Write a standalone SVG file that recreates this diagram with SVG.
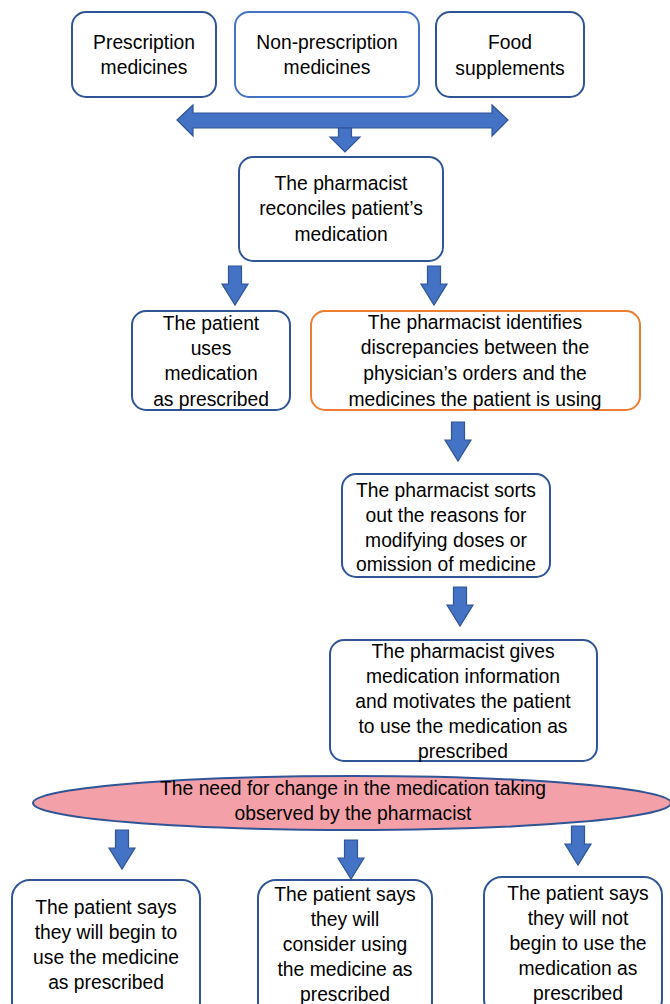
<svg xmlns="http://www.w3.org/2000/svg" xmlns:xlink="http://www.w3.org/1999/xlink" width="670" height="1004" viewBox="0 0 670 1004">
<style>
.box{fill:#fff;stroke:#2F5597;stroke-width:2}
.box2{fill:#fff;stroke:#4472C4;stroke-width:2}
.obox{fill:#fff;stroke:#ED7D31;stroke-width:2}
.arr{fill:#4472C4;stroke:#2F5597;stroke-width:1.2}
text{font-family:"Liberation Sans",Arial,sans-serif;font-size:19.3px;fill:#000;text-anchor:middle}
</style>
<defs>
<path id="down" class="arr" d="M-6.5,0 H6.5 V18 H13 L0,39 L-13,18 H-6.5 Z"/>
</defs>
<rect width="670" height="1004" fill="#fff"/>
<g id="connectors">
<path class="arr" d="M177,120 L193,105 V113 H492 V105 L508,120 L492,136 V128 H193 V136 Z"/>
<path class="arr" d="M338.5,128 H351.5 V137 H360 L345,152 L330,137 H338.5 Z"/>
<use xlink:href="#down" x="235" y="266"/>
<use xlink:href="#down" x="434" y="266"/>
<use xlink:href="#down" x="458" y="422"/>
<use xlink:href="#down" x="460" y="587"/>
<use xlink:href="#down" x="122" y="830"/>
<use xlink:href="#down" x="351" y="840"/>
<use xlink:href="#down" x="578" y="826"/>
</g>
<g id="n1"><rect class="box" x="72" y="12" width="144" height="85" rx="14"/><text x="144" y="49">Prescription</text><text x="144" y="74">medicines</text></g>
<g id="n2"><rect class="box2" x="235" y="12" width="184" height="85" rx="14"/><text x="327" y="49">Non-prescription</text><text x="327" y="74">medicines</text></g>
<g id="n3"><rect class="box" x="436" y="12" width="148" height="85" rx="14"/><text x="510" y="49">Food</text><text x="510" y="75">supplements</text></g>
<g id="n4"><rect class="box" x="239" y="157" width="204" height="104" rx="14"/><text x="341" y="190">The pharmacist</text><text x="341" y="215">reconciles patient’s</text><text x="341" y="241">medication</text></g>
<g id="n5"><rect class="box" x="132" y="311" width="158" height="99" rx="14"/><text x="211" y="330">The patient</text><text x="211" y="355">uses</text><text x="211" y="380">medication</text><text x="211" y="406">as prescribed</text></g>
<g id="n6"><rect class="obox" x="311" y="311" width="329" height="99" rx="14"/><text x="475" y="329">The pharmacist identifies</text><text x="475" y="354">discrepancies between the</text><text x="475" y="380">physician’s orders and the</text><text x="475" y="406">medicines the patient is using</text></g>
<g id="n7"><rect class="box" x="342" y="474" width="208" height="103" rx="14"/><text x="446" y="497">The pharmacist sorts</text><text x="446" y="522">out the reasons for</text><text x="446" y="547">modifying doses or</text><text x="446" y="571">omission of medicine</text></g>
<g id="n8"><rect class="box" x="330" y="640" width="267" height="121" rx="14"/><text x="463" y="658">The pharmacist gives</text><text x="463" y="683">medication information</text><text x="463" y="708">and motivates the patient</text><text x="463" y="733">to use the medication as</text><text x="463" y="758">prescribed</text></g>
<g id="n9"><ellipse cx="352" cy="803" rx="319" ry="27" fill="#F4A0A9" stroke="#2F5597" stroke-width="2"/><text x="353" y="795">The need for change in the medication taking</text><text x="353" y="820">observed by the pharmacist</text></g>
<g id="n10"><rect class="box" x="12" y="880" width="188" height="140" rx="18"/><text x="106" y="914">The patient says</text><text x="106" y="939">they will begin to</text><text x="106" y="964">use the medicine</text><text x="106" y="989">as prescribed</text></g>
<g id="n11"><rect class="box" x="258" y="880" width="174" height="140" rx="18"/><text x="345" y="901">The patient says</text><text x="345" y="926">they will</text><text x="345" y="951">consider using</text><text x="345" y="976">the medicine as</text><text x="345" y="1001">prescribed</text></g>
<g id="n12"><rect class="box" x="484" y="877" width="178" height="140" rx="18"/><text x="578" y="900">The patient says</text><text x="578" y="925">they will not</text><text x="578" y="950">begin to use the</text><text x="578" y="975">medication as</text><text x="578" y="1000">prescribed</text></g>
</svg>
